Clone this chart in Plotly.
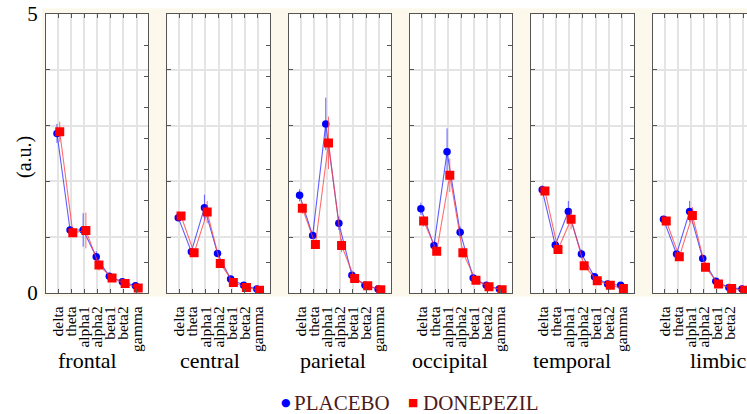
import plotly.graph_objects as go

bands = ["delta", "theta", "alpha1", "alpha2", "beta1", "beta2", "gamma"]
regions = ["frontal", "central", "parietal", "occipital", "temporal", "limbic"]

placebo_frontal = [2.86, 1.13, 1.13, 0.65, 0.30, 0.20, 0.13]
placebo_central = [1.35, 0.74, 1.53, 0.71, 0.25, 0.14, 0.07]
placebo_parietal = [1.75, 1.03, 3.03, 1.25, 0.32, 0.14, 0.07]
placebo_occipital = [1.51, 0.85, 2.53, 1.09, 0.27, 0.14, 0.07]
placebo_temporal = [1.85, 0.86, 1.46, 0.70, 0.29, 0.16, 0.14]
placebo_limbic = [1.32, 0.70, 1.46, 0.62, 0.21, 0.10, 0.07]

donepezil_frontal = [2.89, 1.08, 1.12, 0.50, 0.27, 0.17, 0.09]
donepezil_central = [1.38, 0.72, 1.45, 0.53, 0.19, 0.10, 0.05]
donepezil_parietal = [1.52, 0.87, 2.69, 0.85, 0.26, 0.13, 0.06]
donepezil_occipital = [1.29, 0.75, 2.11, 0.72, 0.23, 0.11, 0.06]
donepezil_temporal = [1.83, 0.78, 1.32, 0.49, 0.22, 0.14, 0.08]
donepezil_limbic = [1.29, 0.65, 1.39, 0.46, 0.16, 0.08, 0.05]

placebo_err_frontal = [0.17, 0.05, 0.30, 0.10, 0.04, 0.03, 0.03]
placebo_err_central = [0.06, 0.05, 0.23, 0.06, 0.03, 0.02, 0.02]
placebo_err_parietal = [0.11, 0.05, 0.47, 0.12, 0.04, 0.03, 0.02]
placebo_err_occipital = [0.11, 0.05, 0.42, 0.10, 0.04, 0.03, 0.02]
placebo_err_temporal = [0.08, 0.05, 0.19, 0.08, 0.03, 0.02, 0.02]
placebo_err_limbic = [0.04, 0.05, 0.19, 0.05, 0.03, 0.02, 0.02]

donepezil_err_frontal = [0.18, 0.06, 0.32, 0.10, 0.04, 0.03, 0.02]
donepezil_err_central = [0.06, 0.06, 0.20, 0.07, 0.03, 0.02, 0.02]
donepezil_err_parietal = [0.10, 0.07, 0.47, 0.12, 0.04, 0.02, 0.02]
donepezil_err_occipital = [0.10, 0.06, 0.30, 0.10, 0.03, 0.02, 0.02]
donepezil_err_temporal = [0.07, 0.05, 0.18, 0.06, 0.03, 0.02, 0.02]
donepezil_err_limbic = [0.05, 0.05, 0.15, 0.06, 0.02, 0.02, 0.02]

placebo = [placebo_frontal, placebo_central, placebo_parietal,
           placebo_occipital, placebo_temporal, placebo_limbic]
donepezil = [donepezil_frontal, donepezil_central, donepezil_parietal,
             donepezil_occipital, donepezil_temporal, donepezil_limbic]
placebo_err = [placebo_err_frontal, placebo_err_central, placebo_err_parietal,
               placebo_err_occipital, placebo_err_temporal, placebo_err_limbic]
donepezil_err = [donepezil_err_frontal, donepezil_err_central, donepezil_err_parietal,
                 donepezil_err_occipital, donepezil_err_temporal, donepezil_err_limbic]

W, H = 747, 414
SERIF = "Liberation Serif"
BORDER = "#555555"
GRID = "#e4e4e4"
CREAM = "#fdf8ec"
LEGEND_TEXT = "#4d1a1a"

panel_left = [46 + 121.3 * i for i in range(6)]
panel_w = 102.3
y_top, y_bot = 14, 293
ydom = [(H - y_bot) / H, (H - y_top) / H]
title_x = [87, 210, 333, 450, 572, 718]

fig = go.Figure()
idx = list(range(len(bands)))

shapes = [dict(type="rect", xref="paper", yref="paper", layer="below",
               x0=41.7 / W, x1=1, y0=(H - 296.5) / H, y1=(H - 8.3) / H,
               fillcolor=CREAM, line=dict(width=0))]

annotations = []
layout_axes = {}
for i in range(6):
    k = i + 1
    xs = "" if k == 1 else str(k)
    x0 = panel_left[i]
    x1 = min(x0 + panel_w, W)
    xdom = [x0 / W, x1 / W]
    xr_end = -0.92 + (x1 - x0) / 13.08
    shapes.append(dict(type="rect", xref="paper", yref="paper", layer="below",
                       x0=xdom[0], x1=xdom[1], y0=ydom[0], y1=ydom[1],
                       fillcolor="white", line=dict(width=0)))

    fig.add_trace(go.Scatter(
        x=[j - 0.08 for j in idx], y=placebo[i], mode="lines+markers",
        xaxis="x" + xs, yaxis="y" + xs, showlegend=False,
        line=dict(color="rgba(40,40,255,0.75)", width=1.1),
        marker=dict(symbol="circle", size=7.5, color="#0000ff"),
        error_y=dict(type="data", array=placebo_err[i], color="rgba(60,60,255,0.8)",
                     thickness=1, width=0)))
    fig.add_trace(go.Scatter(
        x=[j + 0.13 for j in idx], y=donepezil[i], mode="lines+markers",
        xaxis="x" + xs, yaxis="y" + xs, showlegend=False,
        line=dict(color="rgba(255,60,60,0.75)", width=1.1),
        marker=dict(symbol="square", size=9, color="#ff0000"),
        error_y=dict(type="data", array=donepezil_err[i], color="rgba(255,70,70,0.8)",
                     thickness=1, width=0)))

    layout_axes["xaxis" + xs] = dict(
        domain=xdom, anchor="y" + xs, range=[-0.92, xr_end], automargin=False,
        tickmode="array", tickvals=idx, ticktext=bands, tickangle=-90,
        ticks="inside", ticklen=4, tickcolor=BORDER, mirror="ticks",
        showline=True, linecolor=BORDER, linewidth=1.2,
        showgrid=True, gridcolor=GRID, gridwidth=1.5, zeroline=False,
        tickfont=dict(family=SERIF, size=15.5, color="black"),
        ticklabelstandoff=6)
    layout_axes["yaxis" + xs] = dict(
        domain=ydom, anchor="x" + xs, range=[0, 5], automargin=False,
        tickmode="array", tickvals=[0, 1, 2, 3, 4, 5],
        ticktext=["0", "", "", "", "", "5"], showticklabels=(k == 1),
        ticks="inside", ticklen=4, tickcolor=BORDER,
        showline=True, linecolor=BORDER, linewidth=1.2, mirror=(k != 6),
        showgrid=True, gridcolor=GRID, gridwidth=1.5, zeroline=False,
        tickfont=dict(family=SERIF, size=21, color="black"), ticklabelstandoff=3)
    if k != 6:
        sk = str(k + 6)
        layout_axes["yaxis" + sk] = dict(
            domain=ydom, anchor="x" + xs, overlaying="y" + xs, side="right",
            range=[0, 9], tickmode="linear", tick0=0, dtick=1, automargin=False,
            ticks="inside", ticklen=4, tickcolor=BORDER, showticklabels=False,
            showgrid=False, zeroline=False, showline=False)
        fig.add_trace(go.Scatter(x=[None], y=[None], xaxis="x" + xs, yaxis="y" + sk,
                                 showlegend=False, hoverinfo="skip"))

    annotations.append(dict(text=regions[i], xref="paper", yref="paper",
                            x=title_x[i] / W, y=(H - 360) / H, showarrow=False,
                            xanchor="center", yanchor="middle",
                            font=dict(family=SERIF, size=22, color="black")))

annotations.append(dict(text="(a.u.)", xref="paper", yref="paper",
                        x=24 / W, y=(H - 157) / H, textangle=-90, showarrow=False,
                        xanchor="center", yanchor="middle",
                        font=dict(family=SERIF, size=20, color="black")))

# legend: symbol + label pairs
legend_items = [("●", "#0000ff", 286, "PLACEBO", 292),
                ("■", "#ff0000", 413, "DONEPEZIL", 421)]
for sym, col, sx, label, tx in legend_items:
    annotations.append(dict(text=sym, xref="paper", yref="paper", x=sx / W,
                            y=(H - 402) / H, showarrow=False, xanchor="center",
                            yanchor="middle",
                            font=dict(family="DejaVu Sans", size=11, color=col)))
    annotations.append(dict(text=label, xref="paper", yref="paper", x=tx / W,
                            y=(H - 403) / H, showarrow=False, xanchor="left",
                            yanchor="middle",
                            font=dict(family=SERIF, size=21, color=LEGEND_TEXT)))

fig.update_layout(width=W, height=H, margin=dict(l=0, r=0, t=0, b=0, autoexpand=False),
                  paper_bgcolor="white", plot_bgcolor="rgba(0,0,0,0)",
                  showlegend=False, shapes=shapes, annotations=annotations,
                  **layout_axes)

fig.write_html("out.html", config={"displayModeBar": False},
               post_script="document.body.style.margin='0';")
